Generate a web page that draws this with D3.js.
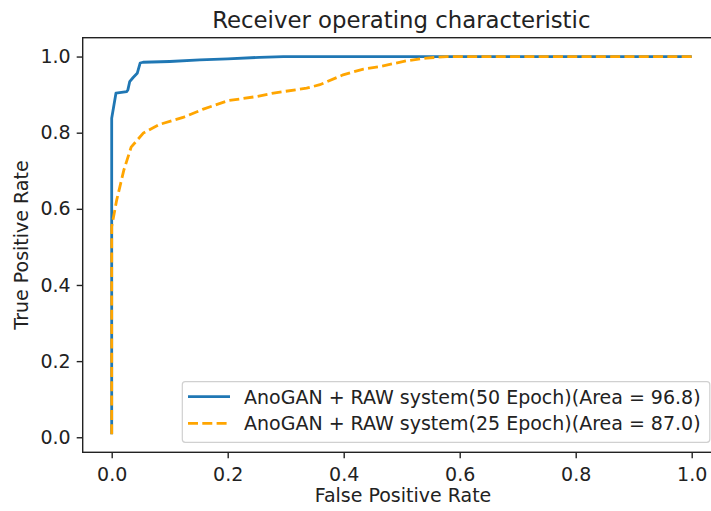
<!DOCTYPE html>
<html>
<head>
    <meta charset="utf-8">
    <title>ROC</title>
    <script src="https://d3js.org/d3.v7.min.js"></script>
    <style>
        body { margin: 0; background: #fff; }
        svg { display: block; font-family: "DejaVu Sans", sans-serif; }
    </style>
</head>
<body>
    <svg width="711" height="511"></svg>
    <script>
        // curve values (false positive rate, true positive rate)
        const fpr50 = [0, 0, 0.0074, 0.026, 0.028, 0.031, 0.037, 0.044, 0.049, 0.054, 0.1, 0.152, 0.2, 0.255, 0.296, 1.0]
        const tpr50 = [0.008, 0.838, 0.904, 0.908, 0.913, 0.934, 0.945, 0.956, 0.983, 0.985, 0.987, 0.991, 0.994, 0.998, 1.0, 1.0]

        const fpr25 = [0, 0, 0.0086, 0.021, 0.0335, 0.0545, 0.083, 0.123, 0.158, 0.2, 0.25, 0.279, 0.336, 0.359, 0.399, 0.434, 0.463, 0.509, 0.543, 0.578, 1.0]
        const tpr25 = [0.008, 0.553, 0.623, 0.702, 0.762, 0.799, 0.822, 0.84, 0.862, 0.884, 0.895, 0.904, 0.917, 0.926, 0.952, 0.967, 0.974, 0.989, 0.996, 1.0, 1.0]

        const seriesNames = ["AnoGAN + RAW system(50 Epoch)(Area = 96.8)", "AnoGAN + RAW system(25 Epoch)(Area = 87.0)"]
        const xTicks = [0, 0.2, 0.4, 0.6, 0.8, 1.0]
        const yTicks = [0, 0.2, 0.4, 0.6, 0.8, 1.0]

        const svg = d3.select("svg")
        const box = { left: 82.7, right: 720.7, top: 37.7, bottom: 452.3 }
        const fontSize = "19px"

        const x = d3.scaleLinear().domain([-0.05, 1.05]).range([box.left, box.right])
        const y = d3.scaleLinear().domain([-0.0395, 1.0495]).range([box.bottom, box.top])

        const toPts = (xs, ys) => xs.map((v, i) => [v, ys[i]])
        const line = d3.line().x(d => x(d[0])).y(d => y(d[1]))

        const plot = svg.append("g")

        plot.append("path")
            .attr("d", line(toPts(fpr50, tpr50)))
            .attr("fill", "none")
            .attr("stroke", "#1f77b4")
            .attr("stroke-width", 2.8)
            .attr("stroke-linejoin", "round")

        plot.append("path")
            .attr("d", line(toPts(fpr25, tpr25)))
            .attr("fill", "none")
            .attr("stroke", "#ffa500")
            .attr("stroke-width", 2.8)
            .attr("stroke-dasharray", "10,4.3")

        // axes
        const xAxis = d3.axisBottom(x).tickValues(xTicks).tickFormat(d3.format(".1f")).tickSize(6).tickPadding(9)
        const yAxis = d3.axisLeft(y).tickValues(yTicks).tickFormat(d3.format(".1f")).tickSize(6).tickPadding(6)

        const gx = svg.append("g").attr("transform", `translate(0,${box.bottom})`).call(xAxis)
        const gy = svg.append("g").attr("transform", `translate(${box.left},0)`).call(yAxis)

        for (const g of [gx, gy]) {
            g.select(".domain").remove()
            g.selectAll(".tick line").attr("stroke", "#222").attr("stroke-width", 1.4)
            g.selectAll(".tick text")
                .attr("fill", "#222")
                .style("font-family", "DejaVu Sans")
                .style("font-size", fontSize)
        }

        svg.append("rect")
            .attr("x", box.left).attr("y", box.top)
            .attr("width", box.right - box.left).attr("height", box.bottom - box.top)
            .attr("fill", "none")
            .attr("stroke", "#222")
            .attr("stroke-width", 1.4)

        // title and labels
        svg.append("text")
            .attr("x", 401.3).attr("y", 27.5)
            .attr("text-anchor", "middle")
            .style("font-size", "22.8px")
            .attr("fill", "#222")
            .text("Receiver operating characteristic")

        svg.append("text")
            .attr("x", 403).attr("y", 502)
            .attr("text-anchor", "middle")
            .style("font-size", fontSize)
            .attr("fill", "#222")
            .text("False Positive Rate")

        svg.append("text")
            .attr("transform", `translate(28,${(box.top + box.bottom) / 2}) rotate(-90)`)
            .attr("text-anchor", "middle")
            .style("font-size", fontSize)
            .attr("fill", "#222")
            .text("True Positive Rate")

        // legend
        const legend = svg.append("g")
        legend.append("rect")
            .attr("x", 182.3).attr("y", 381.7)
            .attr("width", 527.5).attr("height", 60.6)
            .attr("rx", 3)
            .attr("fill", "#fff").attr("fill-opacity", 0.8)
            .attr("stroke", "#d0d0d0").attr("stroke-width", 1.2)

        const rowY = [396.7, 423.3]
        const styles = [
            { color: "#1f77b4", dash: null },
            { color: "#ffa500", dash: "10,4.3" }
        ]
        seriesNames.forEach((name, i) => {
            legend.append("line")
                .attr("x1", 188).attr("x2", 230)
                .attr("y1", rowY[i]).attr("y2", rowY[i])
                .attr("stroke", styles[i].color)
                .attr("stroke-width", 2.8)
                .attr("stroke-dasharray", styles[i].dash)
            legend.append("text")
                .attr("x", 244).attr("y", rowY[i])
                .attr("dy", "0.36em")
                .style("font-size", fontSize)
                .attr("fill", "#222")
                .text(name)
        })
    </script>
</body>
</html>
